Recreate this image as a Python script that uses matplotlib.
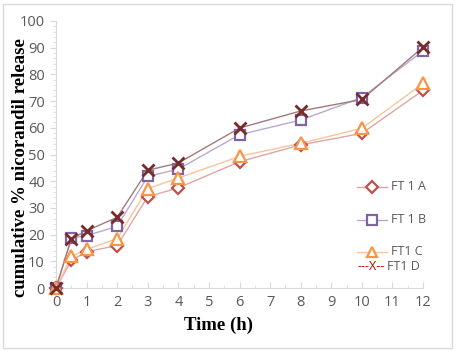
import matplotlib.pyplot as plt
from matplotlib.lines import Line2D
import numpy as np

time_h = [0, 0.5, 1, 2, 3, 4, 6, 8, 10, 12]
ft1_a = [0, 10.3, 13.6, 15.9, 34.2, 37.5, 47.3, 53.6, 57.9, 74.0]
ft1_b = [0, 18.7, 19.6, 23.1, 41.8, 44.5, 57.4, 62.9, 71.3, 88.8]
ft1_c = [0, 11.8, 14.5, 18.5, 37.2, 41.2, 49.3, 54.2, 59.8, 76.6]
ft1_d = [0, 18.4, 21.4, 26.5, 44.1, 46.8, 59.9, 66.3, 70.6, 90.2]

W, H = 457, 352
fig = plt.figure(figsize=(W/100, H/100), dpi=100)
ax = fig.add_axes([56/W, 1-288/H, (423-56)/W, (288-21)/H])

# outer chart border
fig.patches.append(plt.Rectangle((3/W, 4/H), 449/W, 344/H, transform=fig.transFigure,
                                 fill=False, ec='#d9d9d9', lw=1))

series = [
    (ft1_a, 'FT 1 A', 'D', '#c0504d', '#dea6a4', 6.5, 186.5),
    (ft1_b, 'FT 1 B', 's', '#8064a2', '#b9a9d0', 7.5, 219.5),
    (ft1_c, 'FT1 C', '^', '#f79646', '#fbc49a', 8, 251.5),
]
for ys, lab, mk, mc, lc, ms, ly in series:
    ax.plot(time_h, ys, color=lc, lw=1, zorder=2, clip_on=False)
    ax.plot(time_h, ys, ls='none', marker=mk, ms=ms, mfc='white', mec=mc, mew=1.6, zorder=3,
            clip_on=False)
    # legend entry drawn by hand (figure pixels)
    fig.add_artist(Line2D([357/W, 387/W], [1-ly/H]*2, color=lc, lw=1, transform=fig.transFigure))
    fig.add_artist(Line2D([372/W], [1-ly/H], ls='none', marker=mk, ms=ms*0.9, mfc='white', mec=mc,
                          mew=1.6, transform=fig.transFigure))
    fig.text(391/W, 1-ly/H, lab, color='#595959', fontsize=9, fontfamily='Open Sans', va='center')

ax.plot(time_h, ft1_d, color='#a27a79', lw=1, zorder=2, clip_on=False)
ax.plot(time_h, ft1_d, ls='none', marker='x', ms=8, mec='#772c2a', mew=2, zorder=4, clip_on=False)

fig.text(357/W, 1-266/H, '---X--', color='#c00000', fontsize=9, fontfamily='Open Sans', va='center')
fig.text(387/W, 1-266/H, 'FT1 D', color='#595959', fontsize=9, fontfamily='Open Sans', va='center')

ax.set_xlim(0, 12)
ax.set_ylim(0, 100)
ax.set_xticks(range(0, 13))
ax.set_xticks(np.arange(0.5, 12, 1), minor=True)
ax.set_yticks(range(0, 101, 10))
ax.set_yticks(range(0, 101, 2), minor=True)

for s in ['top', 'right']:
    ax.spines[s].set_visible(False)
for s in ['left', 'bottom']:
    ax.spines[s].set_color('#d9d9d9')
ax.tick_params(which='both', color='#d9d9d9', labelcolor='#595959', labelsize=10.5)
ax.tick_params(axis='y', which='major', length=4, direction='out', pad=4)
ax.tick_params(axis='y', which='minor', length=2, direction='out')
ax.tick_params(axis='x', which='major', length=4, direction='in', pad=5)
ax.tick_params(axis='x', which='minor', length=2, direction='in')
for t in ax.get_xticklabels() + ax.get_yticklabels():
    t.set_fontfamily('Open Sans')

ax.set_xlabel('Time (h)', fontfamily='Liberation Serif', fontweight='bold', fontsize=13.5)
ax.set_ylabel('cumulative % nicorandil release', fontfamily='Liberation Serif', fontweight='bold',
              fontsize=13.5)
ax.xaxis.set_label_coords((219-56)/367, (288-317)/267)
ax.yaxis.set_label_coords((29-56)/367, (288-168)/267)

fig.savefig('out.png', dpi=100)
